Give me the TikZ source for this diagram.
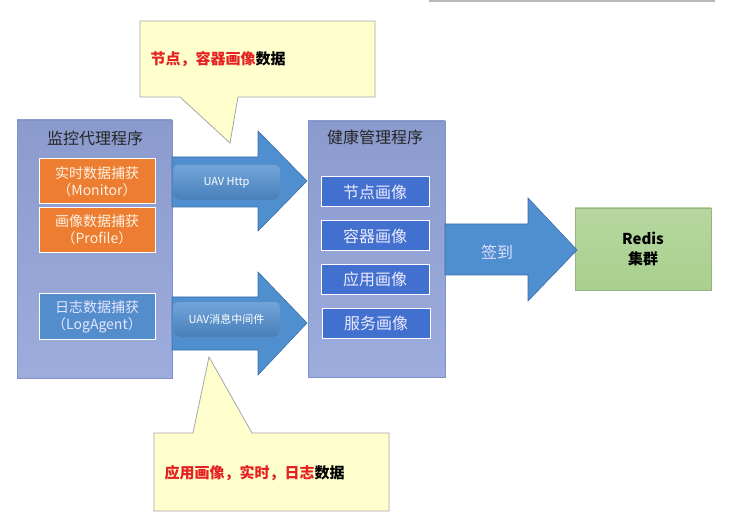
\documentclass[tikz,border=0pt]{standalone}
\usepackage{fontspec}
\newfontfamily\cjk{Noto Sans CJK SC}
\usepackage{tikz}
\usetikzlibrary{positioning}

\definecolor{PanelBlue}{RGB}{146,163,216}
\definecolor{PanelEdge}{RGB}{128,146,204}
\definecolor{CapOrange}{RGB}{237,125,49}
\definecolor{LogBlue}{RGB}{84,141,204}
\definecolor{ImgBlue}{RGB}{66,112,206}
\definecolor{ArrowBlue}{RGB}{79,142,207}
\definecolor{ArrowEdge}{RGB}{58,108,168}
\definecolor{NoteYellow}{RGB}{255,255,206}
\definecolor{NoteEdge}{RGB}{165,165,165}
\definecolor{RedisGreen}{RGB}{169,208,142}
\definecolor{RedisEdge}{RGB}{150,180,130}
\definecolor{NoteRed}{RGB}{228,32,32}

\begin{document}
\begin{tikzpicture}[
        x=1pt, y=-1pt,
        panel/.style={rectangle, draw=PanelEdge, top color=PanelBlue!95!black, bottom color=PanelBlue!90!white, minimum width=155pt, minimum height=258pt},
        title/.style={font=\cjk\fontsize{16}{18}\selectfont, text=black!85},
        capbox/.style={rectangle, draw=white, line width=1pt, fill=CapOrange, minimum width=116pt, minimum height=45pt, align=center, text=white!90!orange, font=\cjk\fontsize{14}{17}\selectfont},
        logbox/.style={capbox, fill=LogBlue, text=white!90!blue},
        imgbox/.style={rectangle, draw=white, line width=1pt, fill=ImgBlue, minimum width=108pt, minimum height=30pt, text=white!92!blue, font=\cjk\fontsize{16}{18}\selectfont},
        bigarrow/.style={draw=ArrowEdge, fill=ArrowBlue, line width=0.6pt},
        tagbox/.style={rectangle, rounded corners=5pt, top color=ArrowBlue!80!white, bottom color=ArrowBlue!90!black, draw=ArrowEdge!70, minimum width=107pt, minimum height=35pt, text=white, font=\cjk\fontsize{11}{13}\selectfont},
        note/.style={draw=NoteEdge, fill=NoteYellow, line width=0.8pt},
        notetext/.style={anchor=west, font=\cjk\bfseries\fontsize{15}{18}\selectfont}
    ]
        % Canvas
        \fill[white] (0,0) rectangle (730,518);
        \draw[gray!55, line width=1.5pt] (429,1) -- (715,1);

        % Monitoring agent - left panel
        \node[panel] (agent) at (94.5, 249) {};
        \node[title] (agenttitle) at (95, 138) {监控代理程序};
        \node[capbox] (monitor) at (97, 181.5) {实时数据捕获\\（Monitor）};
        \node[capbox] (profile) at (97, 230) {画像数据捕获\\（Profile）};
        \node[logbox] (logagent) at (97, 316.5) {日志数据捕获\\（LogAgent）};

        % Health manager - middle panel
        \node[panel, minimum width=137pt, minimum height=256pt] (health) at (376.5, 249) {};
        \node[title] (healthtitle) at (375, 137) {健康管理程序};
        \node[imgbox] (nodeimg) at (375, 192) {节点画像};
        \node[imgbox] (ctimg) at (375, 236) {容器画像};
        \node[imgbox] (appimg) at (375, 279.5) {应用画像};
        \node[imgbox] (svcimg) at (376, 323) {服务画像};

        % Redis cluster
        \node[rectangle, draw=RedisEdge, top color=RedisGreen!85!white, bottom color=RedisGreen, minimum width=136pt, minimum height=82pt, align=center, font=\cjk\bfseries\fontsize{15}{20}\selectfont] (redis) at (643, 249) {Redis\\集群};

        % Block arrows between the panels
        \draw[bigarrow] (172,157) -- (258,157) -- (258,131) -- (307,181) -- (258,231) -- (258,207) -- (172,207) -- cycle;
        \draw[bigarrow] (172,297) -- (258,297) -- (258,272) -- (307,323) -- (258,375) -- (258,350) -- (172,350) -- cycle;
        \draw[bigarrow] (445,224) -- (528,224) -- (528,198) -- (577,250) -- (528,301) -- (528,275) -- (445,275) -- cycle;

        % Arrow labels
        \node[tagbox] (http) at (226.5, 182.5) {UAV Http};
        \node[tagbox] (mq) at (226.5, 319.5) {UAV消息中间件};
        \node[text=white!88!blue, font=\cjk\fontsize{16}{18}\selectfont] (signin) at (497, 252) {签到};

        % Callouts
        \draw[note] (140,21) -- (375,21) -- (375,97) -- (238,97) -- (230,143) -- (180,97) -- (140,97) -- cycle;
        \node[notetext] (topnote) at (147, 59) {\textcolor{NoteRed}{节点，容器画像}数据};
        \draw[note] (154,433) -- (193,433) -- (209,357) -- (252,433) -- (389,433) -- (389,511) -- (154,511) -- cycle;
        \node[notetext] (botnote) at (161, 473) {\textcolor{NoteRed}{应用画像，实时，日志}数据};
    \end{tikzpicture}
\end{document}
